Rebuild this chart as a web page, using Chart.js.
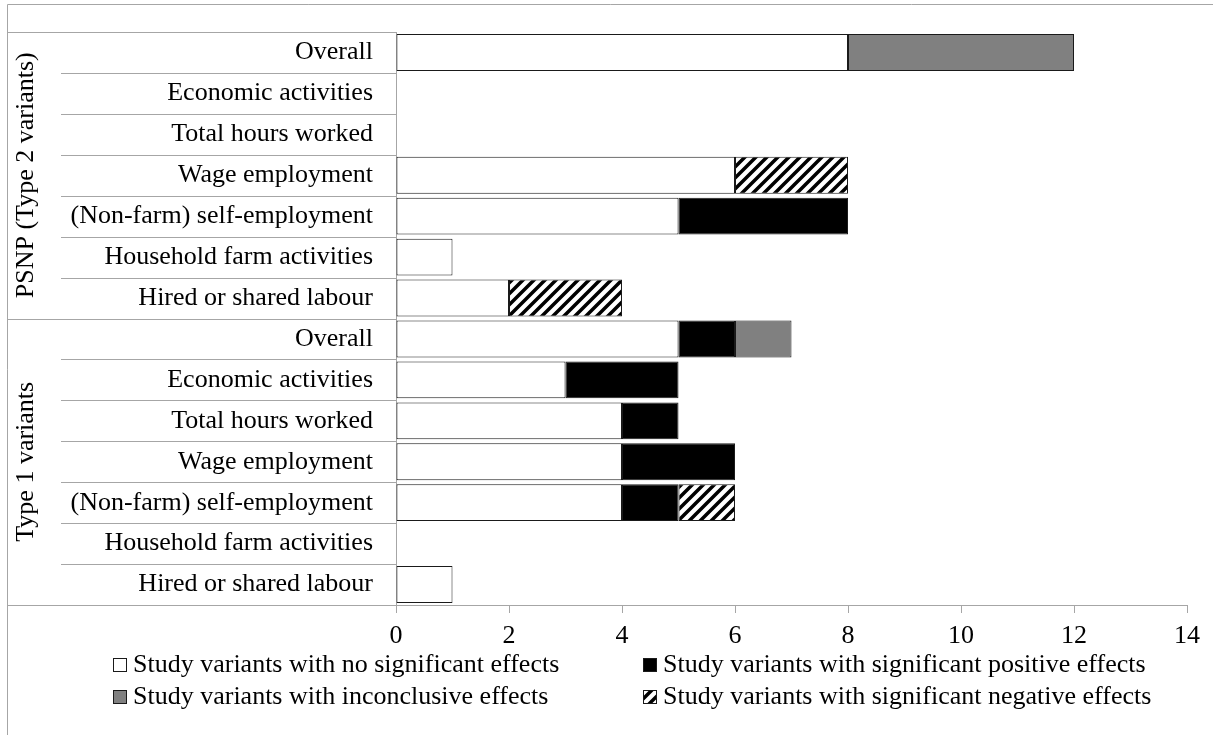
<!DOCTYPE html>
<html>
<head>
<meta charset="utf-8">
<script src="https://cdn.jsdelivr.net/npm/chart.js@4.4.1/dist/chart.umd.min.js"></script>
<style>
  html, body { margin: 0; padding: 0; background: #fff; }
</style>
</head>
<body>
<canvas id="mainChart" width="1213" height="735"></canvas>
<script>
// categories, top to bottom
const categories = [
  'Overall', 'Economic activities', 'Total hours worked', 'Wage employment',
  '(Non-farm) self-employment', 'Household farm activities', 'Hired or shared labour',
  'Overall', 'Economic activities', 'Total hours worked', 'Wage employment',
  '(Non-farm) self-employment', 'Household farm activities', 'Hired or shared labour'
];
const groupNames = ['PSNP (Type 2 variants)', 'Type 1 variants'];
const groupSizes = [7, 7];

// number of study variants per effect type
const noSignificant       = [8, 0, 0, 6, 5, 1, 2,   5, 3, 4, 4, 4, 0, 1];
const significantPositive = [0, 0, 0, 0, 3, 0, 0,   1, 2, 1, 2, 1, 0, 0];
const inconclusive        = [4, 0, 0, 0, 0, 0, 0,   1, 0, 0, 0, 0, 0, 0];
const significantNegative = [0, 0, 0, 2, 0, 0, 2,   0, 0, 0, 0, 1, 0, 0];

const seriesNames = [
  'Study variants with no significant effects',
  'Study variants with significant positive effects',
  'Study variants with inconclusive effects',
  'Study variants with significant negative effects'
];

const xMin = 0, xMax = 14, xStep = 2;

const FONT = "'Liberation Serif', 'Times New Roman', serif";
const FONT_SIZE = 26;
const LINE_GREY = '#a6a6a6';

// diagonal hatch for the negative effects
function makeHatch() {
  const size = 11;
  const c = document.createElement('canvas');
  c.width = size; c.height = size;
  const g = c.getContext('2d');
  g.fillStyle = '#fff';
  g.fillRect(0, 0, size, size);
  g.strokeStyle = '#000';
  g.lineWidth = 3.5;
  g.beginPath();
  g.moveTo(-size / 2, size / 2); g.lineTo(size / 2, -size / 2);
  g.moveTo(0, size); g.lineTo(size, 0);
  g.moveTo(size / 2, size * 1.5); g.lineTo(size * 1.5, size / 2);
  g.stroke();
  return g.createPattern(c, 'repeat');
}

const hatch = makeHatch();

function dataset(label, data, color) {
  return {
    label: label,
    data: data,
    backgroundColor: color,
    borderColor: '#1a1a1a',
    borderWidth: 1,
    borderSkipped: false,
    barPercentage: 0.9,
    categoryPercentage: 1.0
  };
}

// separators, group labels, frame and legend
const decorPlugin = {
  id: 'decor',
  afterDraw(chart) {
    const { ctx, chartArea } = chart;
    const y = chart.scales.y;
    const half = (y.getPixelForValue(1) - y.getPixelForValue(0)) / 2;
    ctx.save();

    // frame
    ctx.strokeStyle = LINE_GREY;
    ctx.lineWidth = 1;
    ctx.beginPath();
    ctx.moveTo(7.5, chart.height);
    ctx.lineTo(7.5, 4.5);
    ctx.lineTo(chart.width, 4.5);
    ctx.stroke();

    // row separators
    const groupEdges = [0];
    groupSizes.forEach(s => groupEdges.push(groupEdges[groupEdges.length - 1] + s));
    for (let i = 0; i <= categories.length; i++) {
      const yy = Math.round(y.getPixelForValue(i) - half) + 0.5;
      const x0 = groupEdges.includes(i) ? 7 : 61;
      ctx.beginPath();
      ctx.moveTo(x0, yy);
      ctx.lineTo(chartArea.left, yy);
      ctx.stroke();
    }

    // vertical group labels
    ctx.fillStyle = '#000';
    ctx.font = FONT_SIZE + 'px ' + FONT;
    ctx.textAlign = 'center';
    ctx.textBaseline = 'middle';
    groupNames.forEach((name, g) => {
      const top = y.getPixelForValue(groupEdges[g]) - half;
      const bottom = y.getPixelForValue(groupEdges[g + 1]) - half;
      ctx.save();
      ctx.translate(26, (top + bottom) / 2);
      ctx.rotate(-Math.PI / 2);
      ctx.fillText(name, 0, 0);
      ctx.restore();
    });

    // legend, two columns
    const colX = [113, 643];
    const rowY = [665, 697];
    ctx.textAlign = 'left';
    chart.data.datasets.forEach((ds, i) => {
      const bx = colX[i % 2];
      const cy = rowY[Math.floor(i / 2)];
      ctx.fillStyle = ds.backgroundColor;
      ctx.fillRect(bx, cy - 7, 14, 14);
      ctx.strokeStyle = '#1a1a1a';
      ctx.strokeRect(bx + 0.5, cy - 6.5, 13, 13);
      ctx.fillStyle = '#000';
      ctx.fillText(ds.label, bx + 20, cy);
    });

    ctx.restore();
  }
};

const chartCtx = document.getElementById('mainChart').getContext('2d');

const chart = new Chart(chartCtx, {
  type: 'bar',
  data: {
    labels: categories,
    datasets: [
      dataset(seriesNames[0], noSignificant, '#ffffff'),
      dataset(seriesNames[1], significantPositive, '#000000'),
      dataset(seriesNames[2], inconclusive, '#808080'),
      dataset(seriesNames[3], significantNegative, hatch)
    ]
  },
  options: {
    indexAxis: 'y',
    responsive: false,
    animation: false,
    layout: { padding: { top: 32, right: 26, left: 0, bottom: 0 } },
    plugins: {
      legend: { display: false },
      tooltip: { enabled: false }
    },
    scales: {
      x: {
        stacked: true,
        min: xMin,
        max: xMax,
        ticks: {
          stepSize: xStep,
          color: '#000',
          padding: 8,
          font: { family: FONT, size: FONT_SIZE }
        },
        grid: {
          display: true,
          drawOnChartArea: false,
          drawTicks: true,
          tickLength: 8,
          color: LINE_GREY
        },
        border: { display: true, color: LINE_GREY },
        afterFit(scale) {
          scale.height = 130;
          scale.paddingLeft = 0;
          scale.paddingRight = 0;
        }
      },
      y: {
        stacked: true,
        ticks: {
          color: '#000',
          padding: 23,
          autoSkip: false,
          font: { family: FONT, size: FONT_SIZE }
        },
        grid: { display: false, drawTicks: false },
        border: { display: true, color: LINE_GREY },
        afterFit(scale) {
          scale.width = 396;
          scale.paddingTop = 0;
          scale.paddingBottom = 0;
        }
      }
    }
  },
  plugins: [decorPlugin]
});
</script>
</body>
</html>
